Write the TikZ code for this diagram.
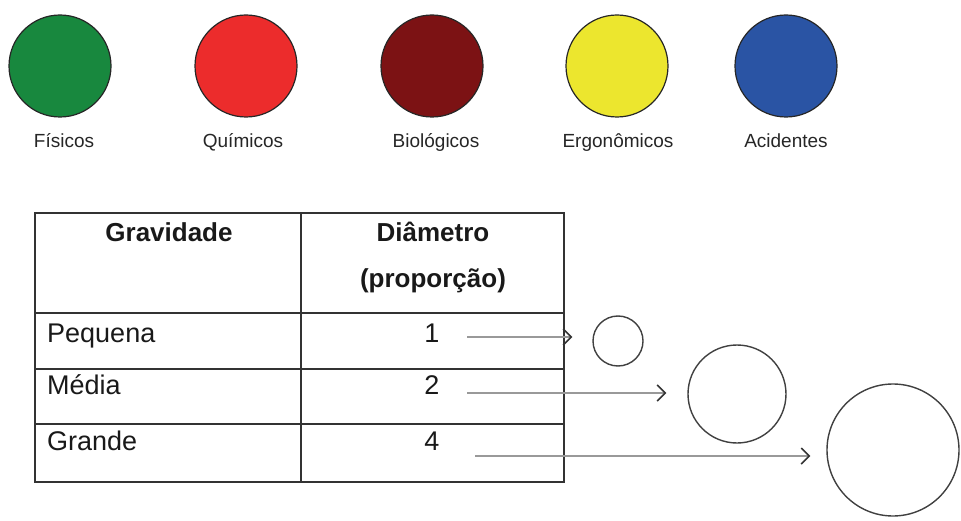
\documentclass[tikz,border=0pt]{standalone}
\usepackage{fontspec}
\setmainfont{Liberation Sans}
\usetikzlibrary{arrows.meta}
\definecolor{cgreen}{RGB}{24,136,62}
\definecolor{cred}{RGB}{236,44,44}
\definecolor{cdred}{RGB}{124,18,20}
\definecolor{cyellow}{RGB}{236,230,46}
\definecolor{cblue}{RGB}{42,84,164}
\begin{document}
\begin{tikzpicture}[x=1pt,y=-1pt,
  risk/.style={circle, draw=black!85, line width=1.2pt, minimum size=102pt, inner sep=0pt},
  lbl/.style={anchor=base, inner sep=0pt, font=\fontsize{19}{21}\selectfont, text=black!85},
  cell/.style={anchor=base, inner sep=0pt, font=\fontsize{27}{30}\selectfont, text=black!90},
  hdr/.style={anchor=base, inner sep=0pt, font=\fontsize{26}{30}\selectfont\bfseries, text=black!90},
  tbl/.style={draw=black!80, line width=1.5pt},
  ring/.style={circle, draw=black!75, line width=1.4pt, inner sep=0pt},
  link/.style={draw=black!40, line width=2pt, -{Straight Barb[length=8pt,width=16pt,color=black!80,line width=1.5pt]}}]
\useasboundingbox (0,0) rectangle (961,521);
% risk colour legend
\node[risk, fill=cgreen]  (fis) at (60,66) {};
\node[risk, fill=cred]    (qui) at (246,66) {};
\node[risk, fill=cdred]   (bio) at (432,66) {};
\node[risk, fill=cyellow] (erg) at (617,66) {};
\node[risk, fill=cblue]   (aci) at (786,66) {};
\node[lbl] (lfis) at (64,148) {Físicos};
\node[lbl] (lqui) at (243,148) {Químicos};
\node[lbl] (lbio) at (436,148) {Biológicos};
\node[lbl] (lerg) at (618,148) {Ergonômicos};
\node[lbl] (laci) at (786,148) {Acidentes};
% table
\coordinate (tl) at (35,213);
\coordinate (br) at (564,482);
\draw[tbl] (tl) rectangle (br);
\draw[tbl] (301,213) -- (301,482);
\draw[tbl] (35,313) -- (564,313);
\draw[tbl] (35,369) -- (564,369);
\draw[tbl] (35,424) -- (564,424);
\node[hdr] (hgrav) at (169,242) {Gravidade};
\node[hdr] (hdiam) at (433,242) {Diâmetro};
\node[hdr] (hprop) at (433,288) {(proporção)};
\node[cell, anchor=base west] (peq) at (47,342) {Pequena};
\node[cell, anchor=base west] (med) at (47,394) {Média};
\node[cell, anchor=base west] (gra) at (47,450) {Grande};
\node[cell] (n1) at (432,342) {1};
\node[cell] (n2) at (432,394) {2};
\node[cell] (n4) at (432,450) {4};
% size circles
\node[ring, minimum size=50pt]  (c1) at (618,341) {};
\node[ring, minimum size=98pt]  (c2) at (737,394) {};
\node[ring, minimum size=132pt] (c3) at (893,450) {};
\coordinate (a1) at (467,337);
\coordinate (a2) at (467,393);
\coordinate (a3) at (475,456);
\draw[link, shorten >=20pt] (a1) -- (a1 -| c1.west);
\draw[link, shorten >=21pt] (a2) -- (a2 -| c2.west);
\draw[link, shorten >=16pt] (a3) -- (a3 -| c3.west);
\end{tikzpicture}
\end{document}
